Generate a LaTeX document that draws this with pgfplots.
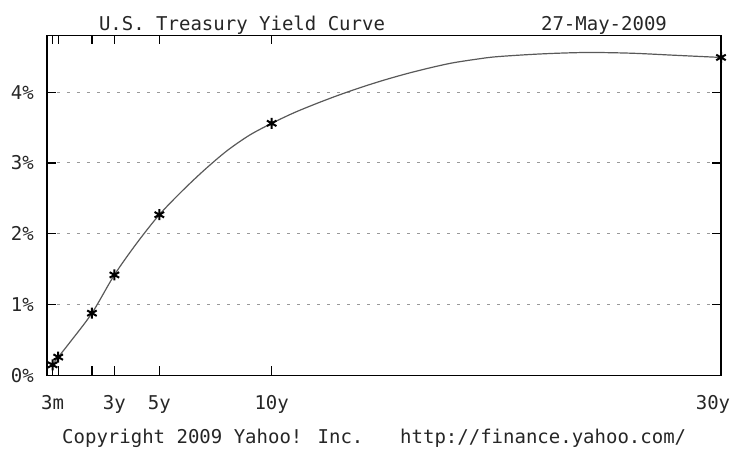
\documentclass[border=0pt]{standalone}
\usepackage{pgfplots}
\pgfplotsset{compat=1.18}
\usepackage{fontspec}
\setmainfont{DejaVu Sans Mono}
\begin{document}
\begin{tikzpicture}
\fontsize{19pt}{22pt}\selectfont
\path[use as bounding box] (-47pt,-73.5pt) rectangle (684pt,375.5pt);
\begin{axis}[
  at={(0pt,0pt)}, anchor=origin,
  scale only axis, width=674pt, height=340pt,
  xmin=0, xmax=30, ymin=0, ymax=4.8,
  axis line style={black, line width=1.3pt},
  tick style={black, line width=1.3pt},
  major tick length=9pt,
  tick align=inside,
  xtick={0.25,0.5,2,3,5,10},
  xticklabels={3m,,,3y,5y,10y},
  extra x ticks={30},
  extra x tick labels={30y},
  extra x tick style={xticklabel style={xshift=-8pt}, grid=none},
  ytick={0,1,2,3,4},
  yticklabels={0\%,1\%,2\%,3\%,4\%},
  ymajorgrids,
  grid style={gray!80, line width=1pt, dash pattern=on 3pt off 7pt},
  ticklabel style={font=\fontsize{19pt}{22pt}\selectfont, inner sep=0pt, text=black!85},
  yticklabel shift=13pt,
  xticklabel shift=20pt,
  clip=false,
]
\addplot[gray!70!black, line width=1.2pt, smooth, tension=0.5, no marks] coordinates {
 (0.25,0.15) (0.5,0.26) (1,0.46) (2,0.88) (3,1.42) (4,1.87) (5,2.27) (6,2.60) (7,2.90)
 (8,3.17) (9,3.39) (10,3.56) (11,3.71) (12,3.84) (13,3.96) (14,4.07) (15,4.17)
 (16,4.26) (17,4.34) (18,4.41) (19,4.46) (20,4.50) (22,4.54) (24,4.56) (26,4.55)
 (28,4.52) (30,4.49)};
\addplot[only marks, mark=asterisk, mark size=5.5pt, line width=2pt, black] coordinates {
 (0.25,0.15) (0.5,0.26) (2,0.88) (3,1.42) (5,2.27) (10,3.56) (30,4.49)};
\end{axis}
\node[anchor=base, text=black!85] at (195pt,345pt) {U.S. Treasury Yield Curve};
\node[anchor=base, text=black!85] at (557pt,345pt) {27-May-2009};
\node[anchor=base west, inner sep=0pt, text=black!85] at (15pt,-68pt) {Copyright 2009 Yahoo! Inc.};
\node[anchor=base west, inner sep=0pt, text=black!85] at (353pt,-68pt) {http://finance.yahoo.com/};
\end{tikzpicture}
\end{document}
